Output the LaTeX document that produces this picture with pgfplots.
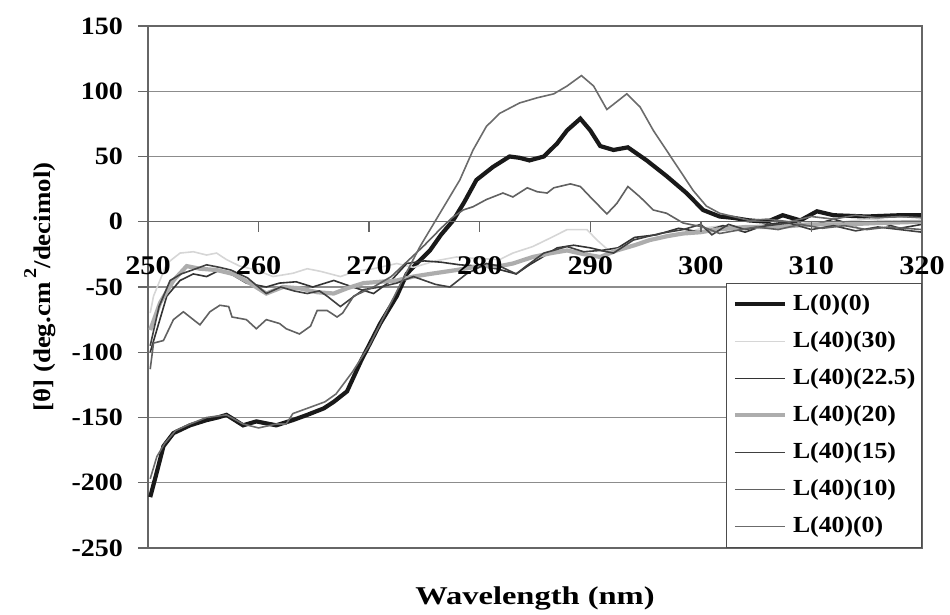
\documentclass[border=0pt]{standalone}
\usepackage{pgfplots}
\pgfplotsset{compat=1.18}
\usepackage{fontspec}
\setmainfont{Liberation Serif}[FakeStretch=1.12]
\newfontfamily\widefont{Liberation Serif}[FakeStretch=1.27]
\definecolor{gridc}{gray}{0.55}
\begin{document}
\begin{tikzpicture}
\path[use as bounding box] (-74pt,-33.5pt) rectangle (401pt,274pt);
\begin{axis}[
  at={(0,0)}, anchor=south west,
  width=387pt, height=261pt, scale only axis,
  xmin=250, xmax=320, ymin=-250, ymax=150,
  xtick=\empty,
  ytick={-250,-200,...,150},
  ytick pos=left, tick align=outside, major tick length=5pt,
  ymajorgrids, grid style={gridc, line width=0.65pt},
  axis line style={black!60, line width=0.65pt},
  tick style={black!60, line width=0.65pt},
  /pgf/number format/assume math mode=true,
  yticklabel style={font=\bfseries\fontsize{12.5}{12.5}\selectfont, xshift=-4pt},
  every axis y label/.style={at={(axis description cs:-0.1395,0.5)}, rotate=90, anchor=center,
    font=\bfseries\fontsize{12}{12}\selectfont},
  ylabel={[θ] (deg.cm\,\raisebox{0.6em}{\fontsize{9}{9}\selectfont 2}/decimol)},
  every axis x label/.style={at={(axis description cs:0.5,-0.0958)}, anchor=center,
    font=\widefont\bfseries\fontsize{12.8}{12.8}\selectfont},
  xlabel={Wavelength (nm)},
  legend style={at={(1,0)}, anchor=south east, draw=black!70, fill=white, line width=0.6pt,
    font=\bfseries\fontsize{11.5}{11.5}\selectfont,
    nodes={inner sep=0pt, text height=9pt, text depth=3pt},
    row sep=6.5pt, inner xsep=3pt, inner ysep=4.5pt},
  legend cell align=left,
  legend image code/.code={\draw[#1] (0pt,0pt) -- (25pt,0pt);},
  /tikz/every odd column/.append style={column sep=3pt},
]
\addplot[black!90, line width=2.1pt] coordinates {
(250.2,-211)(250.7,-195)(251.4,-172)(252.3,-162)(253.8,-156)(255.3,-152)(256.3,-150)(257.1,-148)(258.6,-156)(259.8,-153)(261.6,-156)(263.1,-152)(264.4,-148)(265.9,-143)(266.8,-138)(268,-130)(269.3,-106)(271,-78)(272.5,-57)(273.4,-40)(274.3,-32)(275.5,-22)(276.5,-10)(277.6,1)(278.6,15)(279.7,32)(281.2,42)(282.7,50)(283.6,49)(284.5,47)(285.8,50)(287,60)(287.9,70)(289.1,79)(290,70)(290.9,58)(292.1,55)(293.4,57)(295.1,47)(296.9,35)(298.7,22)(300.2,9)(301.7,4)(302.9,3)(304.4,1)(306,0)(307.4,5)(309,1)(310.5,8)(312,5)(315,4)(318,5)(320,5)};
\addlegendentry{L(0)(0)}
\addplot[black!16, line width=0.8pt] coordinates {
(250.2,-70)(250.5,-57)(251.7,-32)(252.9,-24)(254.1,-23)(255.3,-25.5)(256.2,-24)(257.1,-29)(258.3,-34)(259.8,-37)(261.3,-42)(263.1,-39.5)(264.4,-36)(265.6,-38)(267.4,-42)(268.8,-38)(270.4,-36)(272.5,-32)(274,-35)(276,-30)(277.9,-27)(279.5,-28)(281.8,-29)(283,-24)(284.8,-19)(286.5,-12)(287.9,-6)(289.7,-6)(290.6,-14)(291.8,-23)(293,-20)(295,-15)(297,-10)(299,-8)(300,-5)(302,-3)(304,-4)(306,-2)(308,-3)(310,0)(312,-1)(315,2)(318,0)(320,0)};
\addlegendentry{L(40)(30)}
\addplot[black!80, line width=0.8pt] coordinates {
(250.2,-100)(251.7,-57)(252.9,-45)(254.1,-40)(255.3,-42)(256.5,-37)(257.7,-41)(258.9,-47)(260.7,-50)(261.9,-47)(263.4,-46)(264.9,-50)(266.8,-45)(268.5,-50)(270.4,-55)(272,-45)(273.4,-32)(275,-30)(276.5,-31)(278.2,-33)(280,-34)(281.5,-36)(283.3,-40)(284.5,-33)(285.5,-28)(287,-20)(288.5,-18)(290,-20)(291,-22)(292.5,-20)(294,-12)(296,-10)(298,-5)(300,-8)(302,-3)(304,-8)(306,-2)(308,0)(310,-3)(312,2)(314,-3)(316,0)(318,-5)(320,-2)};
\addlegendentry{L(40)(22.5)}
\addplot[black!32, line width=2.1pt] coordinates {
(250.2,-83)(251.1,-62)(252.3,-45)(253.5,-34)(254.7,-36)(256.2,-37)(257.7,-40)(259.2,-47)(260.7,-55)(262.2,-50)(263.7,-51)(265.3,-54)(266.8,-55)(268,-51)(269.5,-47)(271,-46)(272.5,-45)(274,-42)(275.5,-40)(277.9,-37)(280,-34)(281.8,-34)(283,-32)(284.8,-27)(286.5,-24)(287.9,-22)(289.5,-25)(290.9,-27)(292.4,-22)(294,-18)(295.4,-14)(297,-11)(298.4,-9)(300,-8)(301.4,-6)(304.1,-4)(307,-4)(310,-2)(313,-2)(316,-1)(320,0)};
\addlegendentry{L(40)(20)}
\addplot[black!75, line width=0.8pt] coordinates {
(250.2,-95)(251,-65)(252,-45)(253,-40)(254,-37)(255.3,-33)(256.5,-35)(257.5,-37)(259,-43)(260.7,-55)(262,-50)(263.2,-53)(264.4,-55)(265.5,-53)(266.2,-57)(267.4,-65)(268.5,-58)(269.5,-52)(271,-50)(272.5,-47)(274,-42)(275,-45)(276,-48)(277.3,-50)(278.8,-40)(280.6,-32)(281.8,-34)(283.3,-40)(284.2,-34)(285.8,-24)(287.9,-19)(289.4,-23)(290.9,-22)(292.1,-24)(293.9,-14)(296.3,-9)(298.4,-6)(300,-2)(301,-10)(302.5,-2)(304,-6)(306,-3)(308,-1)(310,-6)(312,-3)(314,-7)(316,-4)(318,-6)(320,-8)};
\addlegendentry{L(40)(15)}
\addplot[black!62, line width=0.8pt] coordinates {
(250.2,-113)(250.5,-93)(251.4,-91)(252.3,-75)(253.2,-69)(254.1,-75)(254.7,-79)(255.6,-69)(256.5,-64)(257.3,-65)(257.6,-73)(258.9,-75)(259.8,-82)(260.7,-75)(261.9,-78)(262.5,-82)(263.7,-86)(264.7,-80)(265.3,-68)(266.2,-68)(267.1,-73)(267.6,-70)(268.6,-57)(270.4,-50)(272,-42)(273.5,-30)(275,-18)(276.5,-5)(277.5,3)(278.5,9)(279.4,11.5)(280.6,17)(282.1,22)(283,19)(284.3,26)(285.2,23)(286.1,22)(286.7,26)(288.2,29)(289.1,27)(290,19)(291.5,6)(292.4,14)(293.4,27)(294.5,19)(295.7,9)(296.9,6.5)(298.4,-1)(300.2,-4)(301.7,-9)(303,-7)(305,-4)(307,-6)(309,-2)(311,-5)(313,-3)(315,-6)(317,-4)(320,-6)};
\addlegendentry{L(40)(10)}
\addplot[black!58, line width=0.8pt] coordinates {
(250.2,-197)(250.8,-180)(251.5,-170)(252.5,-160)(253.8,-155)(255.3,-150)(257.1,-148)(258.6,-155)(260,-158)(261.6,-155)(262.5,-155)(263.1,-147)(264.4,-143)(266,-138)(267,-132)(268.5,-115)(270,-95)(271.5,-70)(273,-45)(274.6,-19)(276.4,6.5)(278.2,32)(279.4,55)(280.6,73)(281.8,83)(283.6,91)(285.2,95)(286.7,98)(287.9,104)(289.2,112)(290.3,104)(291.5,86)(293.3,98)(294.5,88)(295.7,70)(297.5,47)(299.3,24)(300.5,12)(301.7,6.5)(304.4,1)(306,2)(308,0)(310,4)(312,2)(314,5)(316,3)(318,4)(320,3)};
\addlegendentry{L(40)(0)}
\draw[black!60, line width=0.65pt] (rel axis cs:1,0) -- (rel axis cs:1,1);
\end{axis}
\begin{axis}[
  at={(0,0)}, anchor=south west,
  width=387pt, height=261pt, scale only axis,
  xmin=250, xmax=320, ymin=-250, ymax=150,
  axis x line=middle, axis y line=none,
  x axis line style={-, black!60, line width=0.65pt},
  xtick={250,260,...,320},
  tick align=outside, major tick length=5pt,
  tick style={black!60, line width=0.65pt},
  /pgf/number format/assume math mode=true,
  /pgf/number format/1000 sep={},
  xticklabel style={font=\bfseries\fontsize{13.5}{13.5}\selectfont, yshift=-9pt},
]
\addplot[draw=none] coordinates {(250,0)(320,0)};
\end{axis}
\end{tikzpicture}
\end{document}
